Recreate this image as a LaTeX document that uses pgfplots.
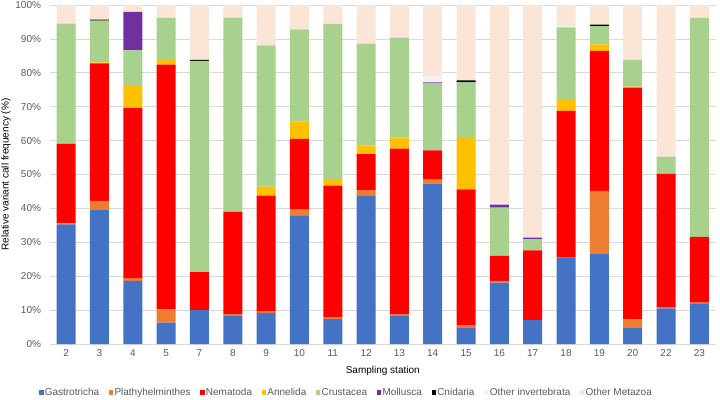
\documentclass[border=0pt]{standalone}
\usepackage{fontspec}
\setmainfont{Liberation Sans}
\usepackage{pgfplots}
\usepackage{pgfplotstable}
\pgfplotsset{compat=1.18}
\definecolor{cG}{HTML}{4472C4}
\definecolor{cP}{HTML}{ED7D31}
\definecolor{cN}{HTML}{FF0000}
\definecolor{cA}{HTML}{FFC000}
\definecolor{cC}{HTML}{A9D18E}
\definecolor{cM}{HTML}{7030A0}
\definecolor{cCn}{HTML}{000000}
\definecolor{cOI}{HTML}{F2F2F2}
\definecolor{cOM}{HTML}{FBE5D6}
\definecolor{txt}{HTML}{595959}
\definecolor{grd}{HTML}{D9D9D9}
\pgfplotstableread{
x  G    P    N    A    C    M    Cn   OI   OM
0  35.3 0.3  23.4 0    35.5 0    0    0    5.5
1  39.5 2.7  40.6 0.3  12.3 0    0.3  0    4.3
2  18.6 0.7  50.3 6.5  10.5 11.4 0    0    2.0
3  6.3  3.9  72.2 1.4  12.4 0    0    0    3.8
4  10.0 0    11.2 0    62.3 0    0.3  0    16.2
5  8.3  0.5  30.2 0    57.3 0    0    0    3.7
6  9.2  0.5  34.1 2.6  41.7 0    0    0    11.9
7  37.8 2.0  20.7 5.2  27.1 0    0    0    7.2
8  7.4  0.5  38.8 1.7  46.0 0    0    0    5.6
9  43.7 1.7  10.6 2.5  30.1 0    0    0    11.4
10 8.2  0.6  48.8 3.3  29.5 0    0    0    9.6
11 47.3 1.2  8.6  0    19.8 0.3  0    1.8  21.0
12 4.9  0.7  40.0 15.2 16.4 0    0.6  0    22.2
13 18.1 0.5  7.4  0    14.2 0.9  0    0.5  58.4
14 7.1  0    20.5 0    3.3  0.5  0    0    68.6
15 25.5 0    43.3 3.4  21.2 0    0    0.4  6.2
16 26.5 18.7 41.3 1.9  5.4  0    0.4  0    5.8
17 4.7  2.6  68.3 0.3  7.9  0    0    0    16.2
18 10.5 0.4  39.3 0    5.1  0    0    0    44.7
19 11.8 0.4  19.4 0    64.6 0    0    0    3.8
}\datatable
\begin{document}
\fontsize{10bp}{12bp}\selectfont
\begin{tikzpicture}
\path[use as bounding box] (-49.5bp,-56bp) rectangle (670.5bp,344bp);
\begin{axis}[
  scale only axis,
  width=666.5bp, height=339bp,
  at={(0,0)}, anchor=south west,
  ybar stacked, bar width=19bp,
  xmin=-0.5, xmax=19.5, ymin=0, ymax=100,
  xtick={0,...,19},
  xticklabels={2,3,4,5,7,8,9,10,11,12,13,14,15,16,17,18,19,20,22,23},
  ytick={0,10,...,100},
  yticklabels={0\%,10\%,20\%,30\%,40\%,50\%,60\%,70\%,80\%,90\%,100\%},
  major tick length=0pt,
  axis line style={draw=none},
  ymajorgrids, grid style={grd, line width=0.75bp},
  tick label style={font=\fontsize{10bp}{12bp}\selectfont, text=txt},
  xticklabel style={yshift=-2bp},
  yticklabel style={xshift=-5bp},
  label style={font=\fontsize{10bp}{12bp}\selectfont, text=txt},
  every axis x label/.style={at={(axis description cs:0.5,0)}, anchor=center, yshift=-26.7bp},
  every axis y label/.style={at={(axis description cs:0,0.5)}, rotate=90, anchor=center, yshift=43.5bp},
  xlabel={Sampling station},
  ylabel={Relative variant call frequency (\%)},
  legend columns=9,
  legend style={at={(0.445,-0.143)}, anchor=center, draw=none, fill=none,
    font=\fontsize{10bp}{12bp}\selectfont, text=txt,
    /tikz/every even column/.append style={column sep=8.5bp},
    nodes={inner sep=1.2bp}},
  legend image code/.code={\path[#1,draw=none] (0bp,-2.2bp) rectangle (4.4bp,2.2bp);},
]
\addplot[fill=cG, draw=none] table[x=x,y=G]{\datatable};
\addplot[fill=cP, draw=none] table[x=x,y=P]{\datatable};
\addplot[fill=cN, draw=none] table[x=x,y=N]{\datatable};
\addplot[fill=cA, draw=none] table[x=x,y=A]{\datatable};
\addplot[fill=cC, draw=none] table[x=x,y=C]{\datatable};
\addplot[fill=cM, draw=none] table[x=x,y=M]{\datatable};
\addplot[fill=cCn, draw=none] table[x=x,y=Cn]{\datatable};
\addplot[fill=cOI, draw=none] table[x=x,y=OI]{\datatable};
\addplot[fill=cOM, draw=none] table[x=x,y=OM]{\datatable};
\legend{Gastrotricha,Plathyhelminthes,Nematoda,Annelida,Crustacea,Mollusca,Cnidaria,Other invertebrata,Other Metazoa}
\end{axis}
\end{tikzpicture}
\end{document}
